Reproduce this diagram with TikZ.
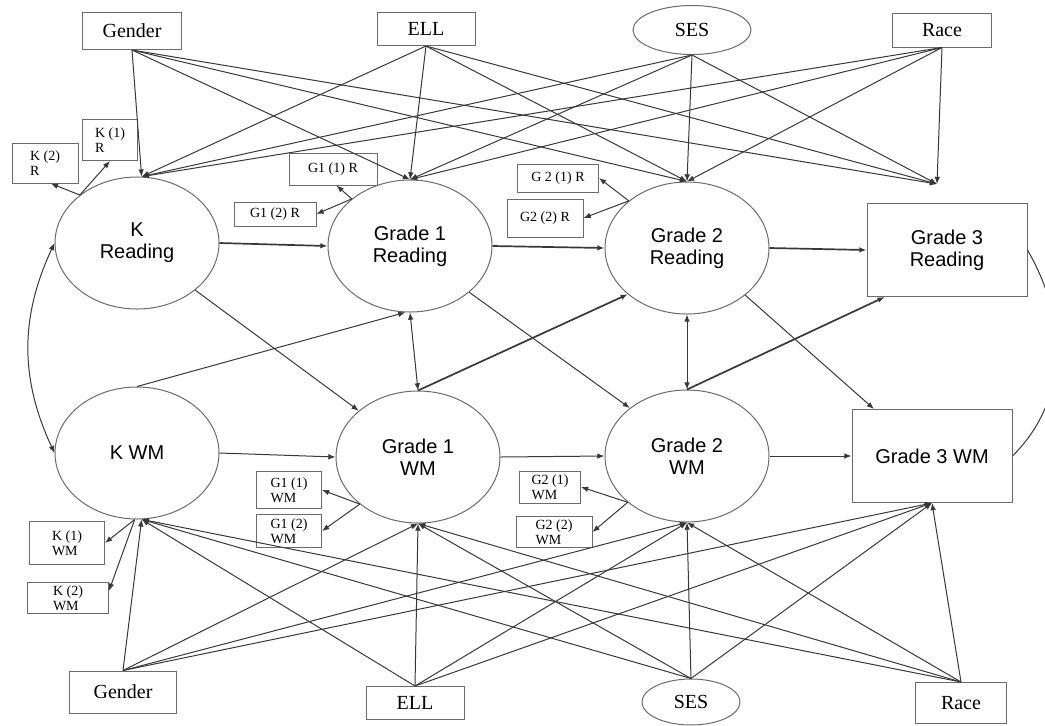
\documentclass[tikz,border=0pt]{standalone}
\usepackage{fontspec}
\setmainfont{Liberation Serif}
\newfontfamily\lvsans{Liberation Sans}
\usepackage{tikz}
\usetikzlibrary{arrows.meta,shapes.geometric}
\definecolor{linegray}{gray}{0.22}
\definecolor{framegray}{gray}{0.42}
\tikzset{every picture/.style={line width=0.5pt}}
\tikzset{
  >={Latex[length=3.6pt,width=2.8pt]},
  latent/.style={draw=framegray, ellipse, inner sep=0pt, align=center,
    minimum width=82pt, minimum height=66pt, font=\lvsans\fontsize{10}{11}\selectfont},
  observed/.style={draw=framegray, rectangle, inner sep=0pt, align=center,
    minimum width=80pt, minimum height=46.5pt, font=\lvsans\fontsize{10}{11}\selectfont},
  covbox/.style={draw=framegray, rectangle, inner sep=0pt, font=\fontsize{10}{12}\selectfont},
  covoval/.style={draw=framegray, ellipse, inner sep=0pt, font=\fontsize{10}{12}\selectfont},
  indbox/.style={draw=framegray, rectangle, inner sep=0pt, align=left, font=\fontsize{7}{7.6}\selectfont},
  link/.style={->, draw=linegray},
  strong/.style={->, draw=linegray, line width=0.85pt},
  fan/.style={->, draw=linegray}
}

\begin{document}
\begin{tikzpicture}[x=0.5pt,y=-0.5pt]
    \useasboundingbox (0,0) rectangle (1045,725);
    % covariates, top
    \node[covbox, minimum width=49.5pt, minimum height=18.5pt] (gendT) at (132,31) {Gender};
    \node[covbox, minimum width=49pt, minimum height=16.5pt] (ellT) at (426,29) {ELL};
    \node[covoval, minimum width=59pt, minimum height=24.5pt] (sesT) at (692,30) {SES};
    \node[covbox, minimum width=49.5pt, minimum height=17pt] (raceT) at (942,30) {Race};
    \coordinate (gcTop) at (937,184);
    % reading and WM
    \node[latent] (kR) at (137,243) {K\\Reading};
    \node[latent] (gaR) at (410,246) {Grade 1\\Reading};
    \node[latent] (gbR) at (687,248) {Grade 2\\Reading};
    \node[observed] (gcR) at (947,250) {Grade 3\\Reading};
    \node[latent] (kW) at (137,453) {K WM};
    \node[latent] (gaW) at (418,457) {Grade 1\\WM};
    \node[latent] (gbW) at (687,456) {Grade 2\\WM};
    \node[observed] (gcW) at (932,456) {Grade 3 WM};
    % covariates, bottom
    \node[covbox, minimum width=53.5pt, minimum height=21pt] (gendB) at (123,692) {Gender};
    \node[covbox, minimum width=49pt, minimum height=16.5pt] (ellB) at (415,703) {ELL};
    \node[covoval, minimum width=49pt, minimum height=23pt] (sesB) at (691,702) {SES};
    \node[covbox, minimum width=45.5pt, minimum height=20.5pt] (raceB) at (961,703) {Race};
    % indicators
    \node[indbox, minimum width=33pt, minimum height=20pt] (kR2) at (45,163) {K (2)\\R};
    \node[indbox, minimum width=27.5pt, minimum height=20.5pt] (kR1) at (110,140) {K (1)\\R};
    \node[indbox, minimum width=44pt, minimum height=16pt] (gaR1) at (333,169) {G1 (1) R};
    \node[indbox, minimum width=41pt, minimum height=12pt] (gaR2) at (275,214) {G1 (2) R};
    \node[indbox, minimum width=40.5pt, minimum height=14pt] (gbR1) at (558,178) {G 2 (1) R};
    \node[indbox, minimum width=38pt, minimum height=19pt] (gbR2) at (545,218) {G2 (2) R};
    \node[indbox, minimum width=32.5pt, minimum height=18.5pt] (gaW1) at (289,490) {G1 (1)\\WM};
    \node[indbox, minimum width=32.5pt, minimum height=16.5pt] (gaW2) at (289,531) {G1 (2)\\WM};
    \node[indbox, minimum width=37.5pt, minimum height=21.5pt] (kW1) at (67,543) {K (1)\\WM};
    \node[indbox, minimum width=40.5pt, minimum height=15.5pt] (kW2) at (68,598) {K (2)\\WM};
    \node[indbox, minimum width=30.5pt, minimum height=16pt] (gbW1) at (550,487) {G2 (1)\\WM};
    \node[indbox, minimum width=38pt, minimum height=15.5pt] (gbW2) at (554,532) {G2 (2)\\WM};
    % covariate paths
    \foreach \src in {gendT,ellT,sesT,raceT}
      \foreach \dst in {kR.86,gaR.north,gbR.north,gcTop}
        \draw[fan] (\src.south) -- (\dst);
    \foreach \src in {gendB,ellB,sesB,raceB}
      \foreach \dst in {kW.-86,gaW.south,gbW.south,gcW.south}
        \draw[fan] (\src.north) -- (\dst);
    % measurement
    \draw[link] (kR.140) -- (kR2.-74);
    \draw[link] (kR.140) -- (kR1.south);
    \draw[link] (gaR.141) -- (gaR1.-78);
    \draw[link] (gaR.141) -- (gaR2.east);
    \draw[link] (gbR.141) -- (gbR1.east);
    \draw[link] (gbR.141) -- (gbR2.east);
    \draw[link] (gaW.-141) -- (gaW1.east);
    \draw[link] (gaW.-141) -- (gaW2.east);
    \draw[link] (kW.-92) -- (kW1.east);
    \draw[link] (kW.-92) -- (kW2.10);
    \draw[link] (gbW.-142) -- (gbW1.east);
    \draw[link] (gbW.-142) -- (gbW2.east);
    % autoregressive and cross-lagged
    \draw[strong] (kR.east) -- (gaR.west);
    \draw[strong] (gaR.east) -- (gbR.west);
    \draw[strong] (gbR.east) -- (gcR.west);
    \draw[link] (kW.east) -- (gaW.west);
    \draw[link] (gaW.east) -- (gbW.west);
    \draw[link] (gbW.east) -- (gcW.west);
    \draw[link] (kR.-39) -- (gaW.142);
    \draw[link] (gaR.-38) -- (gbW.140);
    \draw[link] (gbR.-39) -- (gcW.141);
    \draw[link] (kW.north) -- (gaR.-94);
    \draw[strong] (gaW.north) -- (gbR.-142);
    \draw[strong] (gbW.north) -- (gcR.-143);
    % correlations
    \draw[link, <->] (gaR.south) -- (gaW.north);
    \draw[link, <->] (gbR.south) -- (gbW.north);
    \draw[link, <->] (kR.west) to[out=-115,in=115] (kW.west);
    \draw[draw=linegray] (gcR.east) to[out=-60,in=45] (gcW.east);
\end{tikzpicture}
\end{document}
